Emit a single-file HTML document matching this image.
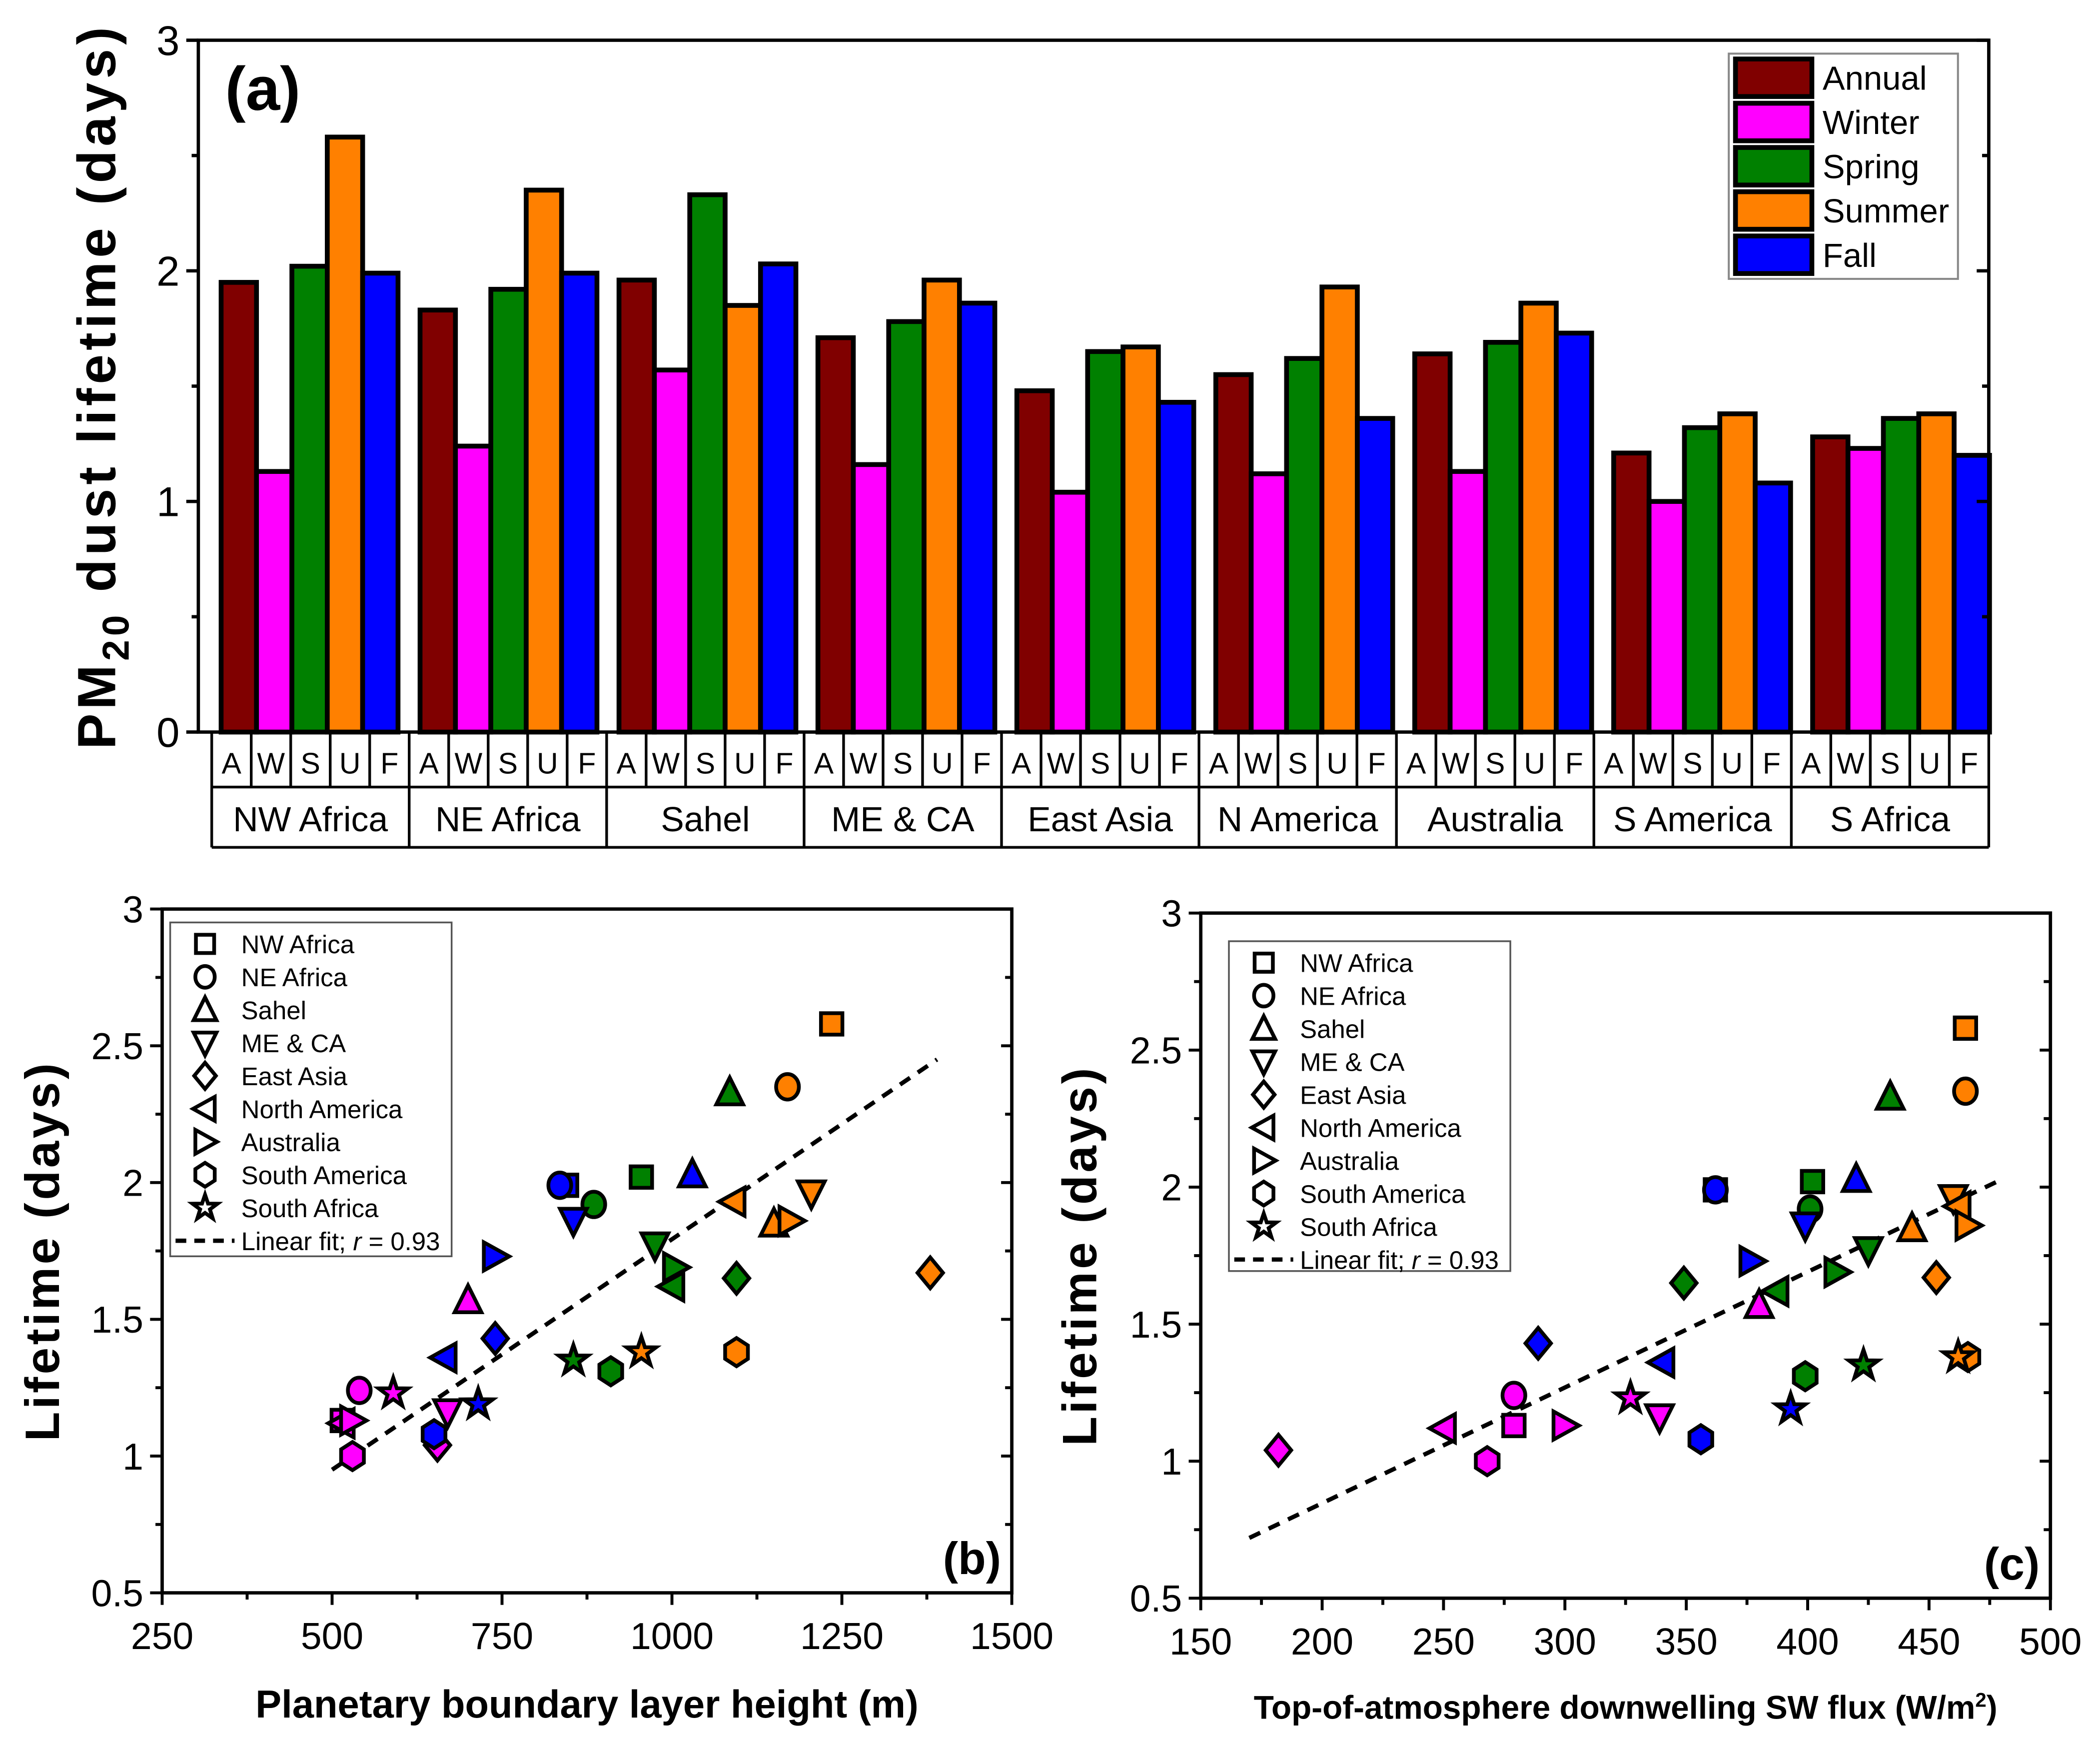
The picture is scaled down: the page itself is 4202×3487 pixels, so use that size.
<!DOCTYPE html>
<html><head><meta charset="utf-8"><style>
html,body{margin:0;padding:0;background:#fff;}
svg{display:block;font-family:"Liberation Sans",Arial,sans-serif;}
</style></head><body>
<svg id="fig" width="4202" height="3487" viewBox="0 0 1567 1300" preserveAspectRatio="none" xmlns="http://www.w3.org/2000/svg"></svg>
<script>
// ---------- Panel (a) data ----------
const regions = ["NW Africa","NE Africa","Sahel","ME & CA","East Asia","N America","Australia","S America","S Africa"];
const seasonsShort = ["A","W","S","U","F"];
const seasonNames = ["Annual","Winter","Spring","Summer","Fall"];
const annualVals = [1.95,1.83,1.96,1.71,1.48,1.55,1.64,1.21,1.28];
const winterVals = [1.13,1.24,1.57,1.16,1.04,1.12,1.13,1.00,1.23];
const springVals = [2.02,1.92,2.33,1.78,1.65,1.62,1.69,1.32,1.36];
const summerVals = [2.58,2.35,1.85,1.96,1.67,1.93,1.86,1.38,1.38];
const fallVals   = [1.99,1.99,2.03,1.86,1.43,1.36,1.73,1.08,1.20];
const aTicks = [0,1,2,3];
// ---------- Panel (b)/(c) data (order: Winter, Spring, Summer, Fall) ----------
const scatterSeasons = ["Winter","Spring","Summer","Fall"];
const regionLegend = ["NW Africa","NE Africa","Sahel","ME & CA","East Asia","North America","Australia","South America","South Africa"];
const lifeW = [1.13,1.24,1.57,1.16,1.04,1.12,1.13,1.00,1.23];
const lifeS = [2.02,1.92,2.33,1.77,1.65,1.62,1.69,1.31,1.35];
const lifeU = [2.58,2.35,1.85,1.96,1.67,1.93,1.86,1.38,1.38];
const lifeF = [1.99,1.99,2.03,1.86,1.43,1.36,1.73,1.08,1.19];
const pblW = [515,540,700,670,655,515,530,530,590];
const pblS = [955,885,1085,975,1095,1000,1005,910,855];
const pblU = [1235,1170,1150,1205,1380,1090,1175,1095,955];
const pblF = [845,835,1030,855,740,665,740,650,715];
const swW = [279,279,380,339,182,250,300,268,327];
const swS = [402,401,434,425,349,387,412,399,423];
const swU = [465,465,443,460,453,462,466,466,462];
const swF = [362,362,420,399,289,340,377,356,393];
const fitB = [[500,0.95],[1390,2.45]];
const fitC = [[170,0.72],[478,2.02]];
const bXTicks = [250,500,750,1000,1250,1500];
const cXTicks = [150,200,250,300,350,400,450,500];
const yTicksBC = [0.5,1,1.5,2,2.5,3];

const colors = {Annual:"#800000",Winter:"#ff00ff",Spring:"#008000",Summer:"#ff8000",Fall:"#0000ff"};
const NS="http://www.w3.org/2000/svg";
const svg=document.getElementById('fig');
function el(tag,attrs,parent,text){const e=document.createElementNS(NS,tag);for(const k in attrs)e.setAttribute(k,attrs[k]);if(text!==undefined)e.textContent=text;(parent||svg).appendChild(e);return e;}

// ================= Panel (a) =================
const aL=148,aR=1484,aT=30,aB=546;
const ay=v=>aB-(aB-aT)*v/3;
const gA=el('g',{},svg);


const barSeries=[annualVals,winterVals,springVals,summerVals,fallVals];
const gW=(aR-aL)/9, bw=26.4;
for(let g=0;g<9;g++){
  for(let s=0;s<5;s++){
    const v=barSeries[s][g];
    const x=aL+g*gW+17+s*bw;
    const r=el('rect',{x:x,y:ay(v),width:bw,height:aB-ay(v),fill:colors[seasonNames[s]],stroke:"#000","stroke-width":3.6},gA);
    
    
  }
}
el('rect',{x:aL,y:aT,width:aR-aL,height:aB-aT,fill:"none",stroke:"#000","stroke-width":2.5},gA);
aTicks.forEach(t=>{
  el('line',{x1:aL-9,x2:aL,y1:ay(t),y2:ay(t),stroke:"#000","stroke-width":2.5},gA);
  el('line',{x1:aR-9,x2:aR,y1:ay(t),y2:ay(t),stroke:"#000","stroke-width":2.5},gA);
  const tx=el('text',{x:aL-14,y:ay(t)+11,"font-size":31,"text-anchor":"end"},gA,String(t));
  
  
  if(t<3){const m=t+0.5;
    el('line',{x1:aL-5,x2:aL,y1:ay(m),y2:ay(m),stroke:"#000","stroke-width":2.5},gA);
    el('line',{x1:aR-5,x2:aR,y1:ay(m),y2:ay(m),stroke:"#000","stroke-width":2.5},gA);}
});
// category table
const tL=158,tR=1484,r1=587,r2=632;
el('line',{x1:tL,x2:tL,y1:aB,y2:r2,stroke:"#000","stroke-width":2},gA);
el('line',{x1:tL,x2:tR,y1:r1,y2:r1,stroke:"#000","stroke-width":2},gA);
el('line',{x1:tL,x2:tR,y1:r2,y2:r2,stroke:"#000","stroke-width":2},gA);
el('line',{x1:tR,x2:tR,y1:aB,y2:r2,stroke:"#000","stroke-width":2},gA);
const cw=(tR-tL)/45;
for(let i=0;i<45;i++){
  const x0=tL+i*cw;
  if(i>0) el('line',{x1:x0,x2:x0,y1:aB,y2:(i%5===0)?r2:r1,stroke:"#000","stroke-width":2},gA);
  const t=el('text',{x:x0+cw/2,y:577,"font-size":22,"text-anchor":"middle"},gA,seasonsShort[i%5]);
  
  
}
for(let g=0;g<9;g++){
  const t=el('text',{x:tL+(g+0.5)*cw*5,y:620,"font-size":26,"text-anchor":"middle"},gA,regions[g]);
  
  
}
const ya=el('text',{x:0,y:0,"font-size":40,"font-weight":"bold","text-anchor":"middle",transform:"translate(86,288) rotate(-90)","letter-spacing":"3"},gA);


ya.innerHTML='PM<tspan font-size="28" dy="10">20</tspan><tspan dy="-10"> dust lifetime (days)</tspan>';
const pa=el('text',{x:168,y:82,"font-size":46,"font-weight":"bold"},gA,"(a)");


// legend a
const lg=el('g',{},gA);


el('rect',{x:1290,y:40,width:171,height:168,fill:"#fff",stroke:"#888","stroke-width":1.5},lg);
seasonNames.forEach((n,i)=>{
  const y=44+i*33;
  const r=el('rect',{x:1295,y:y,width:57,height:28,fill:colors[n],stroke:"#000","stroke-width":3.6},lg);
  
  
  const t=el('text',{x:1360,y:y+23,"font-size":25},lg,n);
  
  
});

// ================= marker shapes =================
function marker(shape,cx,cy,fill,parent,sz){
  const s=sz||10, sw=2.8;
  let e;
  const st={fill:fill,stroke:"#000","stroke-width":sw,"stroke-linejoin":"miter"};
  const poly=pts=>el('polygon',Object.assign({points:pts.map(p=>(cx+p[0]*s)+','+(cy+p[1]*s)).join(' ')},st),parent);
  switch(shape){
    case 0: e=el('rect',Object.assign({x:cx-s*0.8,y:cy-s*0.8,width:s*1.6,height:s*1.6},st),parent);break;
    case 1: e=el('ellipse',Object.assign({cx:cx,cy:cy,rx:s*0.85,ry:s*0.95},st),parent);break;
    case 2: e=poly([[0,-1.1],[1,0.9],[-1,0.9]]);break;
    case 3: e=poly([[-1,-0.9],[1,-0.9],[0,1.1]]);break;
    case 4: e=poly([[0,-1.15],[0.95,0],[0,1.15],[-0.95,0]]);break;
    case 5: e=poly([[-1.05,0],[0.85,-1.05],[0.85,1.05]]);break;
    case 6: e=poly([[1.05,0],[-0.85,-1.05],[-0.85,1.05]]);break;
    case 7: e=poly([[0,-1.05],[0.85,-0.5],[0.85,0.5],[0,1.05],[-0.85,0.5],[-0.85,-0.5]]);break;
    case 8: {const pts=[];for(let k=0;k<10;k++){const a=-Math.PI/2+k*Math.PI/5;const r=k%2?0.45:1.15;pts.push([r*Math.cos(a),r*Math.sin(a)]);}e=poly(pts);break;}
  }
  return e;
}

// ================= Scatter panels =================
function scatterPanel(cfg){
  const g=el('g',{},svg);
  
  
  const {L,R,T,B,x0,x1}=cfg;
  const sx=v=>L+(v-x0)/(x1-x0)*(R-L);
  const sy=v=>B-(v-0.5)/2.5*(B-T);
  el('rect',{x:L,y:T,width:R-L,height:B-T,fill:"none",stroke:"#000","stroke-width":2.5},g);
  yTicksBC.forEach((t,i)=>{
    el('line',{x1:L-9,x2:L,y1:sy(t),y2:sy(t),stroke:"#000","stroke-width":2.2},g);
    el('line',{x1:R-8,x2:R,y1:sy(t),y2:sy(t),stroke:"#000","stroke-width":2.2},g);
    const tx=el('text',{x:L-14,y:sy(t)+10,"font-size":28,"text-anchor":"end"},g,String(t));
    
    
    if(i<yTicksBC.length-1){const m=t+0.25;
      el('line',{x1:L-5,x2:L,y1:sy(m),y2:sy(m),stroke:"#000","stroke-width":2.2},g);
      el('line',{x1:R-5,x2:R,y1:sy(m),y2:sy(m),stroke:"#000","stroke-width":2.2},g);}
  });
  cfg.xticks.forEach((t,i)=>{
    el('line',{x1:sx(t),x2:sx(t),y1:B,y2:B+9,stroke:"#000","stroke-width":2.2},g);
    const tx=el('text',{x:sx(t),y:B+42,"font-size":28,"text-anchor":"middle"},g,String(t));
    
    
    if(i<cfg.xticks.length-1){const m=(t+cfg.xticks[i+1])/2;
      el('line',{x1:sx(m),x2:sx(m),y1:B,y2:B+5,stroke:"#000","stroke-width":2.2},g);}
  });
  const fl=el('line',{x1:sx(cfg.fit[0][0]),y1:sy(cfg.fit[0][1]),x2:sx(cfg.fit[1][0]),y2:sy(cfg.fit[1][1]),stroke:"#000","stroke-width":3.2,"stroke-dasharray":"9,7"},g);
  
  
  const xs=[cfg.xW,cfg.xS,cfg.xU,cfg.xF], ys=[lifeW,lifeS,lifeU,lifeF];
  for(let s=0;s<4;s++){
    for(let r=0;r<9;r++){
      const m=marker(r,sx(xs[s][r]),sy(ys[s][r]),colors[scatterSeasons[s]],g);
      
      
    }
  }
  const lg=el('g',{},g);
  
  
  const lx=cfg.lx, ly=cfg.ly;
  el('rect',{x:lx,y:ly,width:210,height:cfg.lh,fill:"#fff",stroke:"#555","stroke-width":1.3},lg);
  regionLegend.forEach((n,i)=>{
    const yy=ly+16+i*24.6;
    marker(i,lx+26,yy,"#fff",lg,8.5);
    const t=el('text',{x:lx+53,y:yy+7,"font-size":19},lg,n);
    
    
  });
  const yy=ly+16+9*24.6;
  el('line',{x1:lx+4,x2:lx+48,y1:yy,y2:yy,stroke:"#000","stroke-width":3.2,"stroke-dasharray":"8,6"},lg);
  const lt=el('text',{x:lx+53,y:yy+7,"font-size":19},lg);
  lt.innerHTML='Linear fit; <tspan font-style="italic">r</tspan> = 0.93';
  
  
  const pl=el('text',{x:R-8,y:B-14,"font-size":34,"font-weight":"bold","text-anchor":"end"},g,cfg.label);
  
  
  const yt=el('text',{x:0,y:0,"font-size":36,"font-weight":"bold","text-anchor":"middle","letter-spacing":"2",transform:`translate(${cfg.ytx},${(T+B)/2}) rotate(-90)`},g,"Lifetime (days)");
  
  
  const xt=el('text',{x:(L+R)/2,y:cfg.xty,"font-size":cfg.xfs,"font-weight":"bold","text-anchor":"middle"},g);
  xt.innerHTML=cfg.xtitle;
  
  
}
scatterPanel({name:'panel-b',tag:'b',L:121,R:755,T:678,B:1188,x0:250,x1:1500,xticks:bXTicks,fit:fitB,
  xW:pblW,xS:pblS,xU:pblU,xF:pblF,lx:127,ly:688,lh:249,label:"(b)",ytx:44,xty:1281,xfs:29,
  xtitle:"Planetary boundary layer height (m)"});
scatterPanel({name:'panel-c',tag:'c',L:896,R:1530,T:681,B:1192,x0:150,x1:500,xticks:cXTicks,fit:fitC,
  xW:swW,xS:swS,xU:swU,xF:swF,lx:917,ly:702,lh:246,label:"(c)",ytx:818,xty:1282,xfs:24.5,
  xtitle:'Top-of-atmosphere downwelling SW flux (W/m<tspan font-size="15" dy="-9">2</tspan><tspan dy="9">)</tspan>'});
</script>
</body></html>
